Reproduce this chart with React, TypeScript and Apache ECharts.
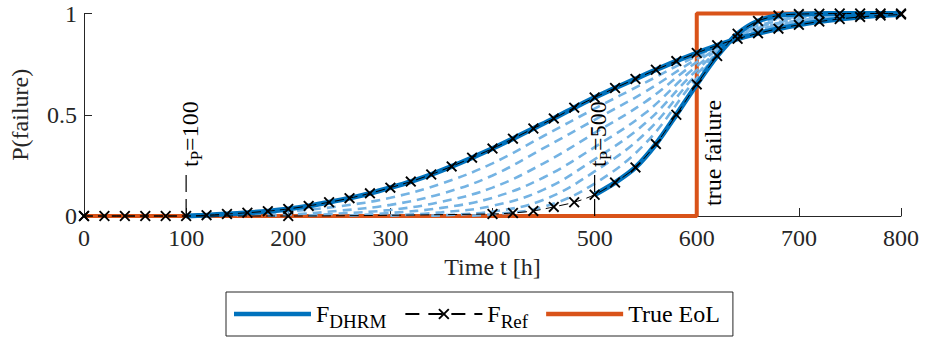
import React, { useEffect, useRef } from "react";
import * as echarts from "echarts";

// ---- data ----
const refTimesTp100 = [0, 20, 40, 60, 80, 100, 120, 140, 160, 180, 200, 220, 240, 260, 280, 300, 320, 340, 360, 380, 400, 420, 440, 460, 480, 500, 520, 540, 560, 580, 600, 620, 640, 660, 680, 700, 720, 740, 760, 780, 800];
const refValuesTp100 = [0, 0, 0, 0, 0, 0, 0.004, 0.01, 0.016, 0.024, 0.035, 0.05, 0.068, 0.088, 0.112, 0.14, 0.17, 0.205, 0.245, 0.288, 0.333, 0.382, 0.432, 0.482, 0.535, 0.585, 0.632, 0.677, 0.722, 0.765, 0.805, 0.843, 0.875, 0.902, 0.925, 0.944, 0.96, 0.973, 0.983, 0.99, 0.995];

const refTimesTp500 = [0, 200, 400, 420, 440, 460, 480, 500, 520, 540, 560, 580, 600, 620, 640, 660, 680, 700, 720, 740, 760, 780, 800];
const refValuesTp500 = [0, 0, 0.01, 0.015, 0.025, 0.045, 0.068, 0.105, 0.165, 0.24, 0.355, 0.5, 0.65, 0.79, 0.9, 0.963, 0.99, 0.997, 0.999, 1, 1, 1, 1];

const predictionTimes = [100, 500];

const curveTp150 = [[150, 0.003], [200, 0.022], [250, 0.048], [300, 0.09], [350, 0.16], [400, 0.26], [450, 0.395], [500, 0.53], [550, 0.66], [600, 0.79], [650, 0.9], [700, 0.95], [750, 0.985], [800, 0.997]];
const curveTp200 = [[180, 0.002], [200, 0.006], [250, 0.026], [300, 0.055], [350, 0.11], [400, 0.2], [450, 0.335], [500, 0.475], [550, 0.615], [600, 0.775], [650, 0.905], [700, 0.955], [750, 0.988], [800, 0.998]];
const curveTp250 = [[220, 0.002], [250, 0.012], [300, 0.03], [350, 0.07], [400, 0.14], [450, 0.26], [500, 0.41], [550, 0.565], [600, 0.76], [650, 0.91], [700, 0.96], [750, 0.99], [800, 0.998]];
const curveTp300 = [[260, 0.002], [300, 0.015], [350, 0.04], [400, 0.09], [450, 0.19], [500, 0.34], [550, 0.51], [600, 0.74], [650, 0.915], [700, 0.965], [750, 0.992], [800, 0.999]];
const curveTp350 = [[300, 0.002], [350, 0.018], [400, 0.05], [450, 0.13], [500, 0.28], [550, 0.46], [600, 0.72], [650, 0.92], [700, 0.97], [750, 0.994], [800, 0.999]];
const curveTp400 = [[340, 0.002], [400, 0.022], [450, 0.08], [500, 0.22], [550, 0.41], [600, 0.7], [650, 0.93], [700, 0.98], [750, 0.996], [800, 1]];
const curveTp450 = [[380, 0.002], [400, 0.008], [450, 0.045], [500, 0.16], [550, 0.36], [600, 0.68], [650, 0.935], [700, 0.985], [750, 0.998], [800, 1]];

const eolTimes = [0, 600, 600, 800];
const eolValues = [0, 0, 1, 1];

const markerLineTop = 0.22;
const markerLabelStart = 0.242;
const failureTime = 600;
const failureLabelStart = 0.05;

// ---- styles ----
const FONT = "Liberation Serif, Times New Roman, serif";
const BLUE = "#0072BD";
const LIGHT = "#74b3e3";
const ORANGE = "#D95319";
const AXIS = "#262626";
const CROSS = "path://M0,1.2 L1.2,0 L5,3.8 L8.8,0 L10,1.2 L6.2,5 L10,8.8 L8.8,10 L5,6.2 L1.2,10 L0,8.8 L3.8,5 Z";
const BAR_ICON = "path://M0,0 L77,0 L77,4.5 L0,4.5 Z";

function zip(ts: number[], vs: number[]) {
  return ts.map((t, i) => [t, vs[i]]);
}

export default function App() {
  const ref = useRef<HTMLDivElement>(null);
  useEffect(() => {
    if (!ref.current) return;
    const chart = echarts.init(ref.current, null, { renderer: "svg" });

    const ref100 = zip(refTimesTp100, refValuesTp100);
    const ref500 = zip(refTimesTp500, refValuesTp500);
    const dhrm100 = ref100.filter((p) => p[0] >= predictionTimes[0]);
    const dhrm500 = ref500.filter((p) => p[0] >= predictionTimes[1]);
    const dashed = [curveTp150, curveTp200, curveTp250, curveTp300, curveTp350, curveTp400, curveTp450];

    const series: any[] = [];
    series.push({
      name: "True EoL",
      type: "line",
      data: zip(eolTimes, eolValues),
      symbol: "none",
      lineStyle: { color: ORANGE, width: 4 },
      itemStyle: { color: ORANGE },
      clip: false,
      z: 1,
    });
    dashed.forEach((c, i) => {
      series.push({
        name: "interm" + i,
        type: "line",
        data: c,
        smooth: 0.4,
        symbol: "none",
        lineStyle: { color: LIGHT, width: 2.6, type: [9, 6] },
        clip: false,
        z: 2,
      });
    });
    [dhrm100, dhrm500].forEach((d) => {
      series.push({
        name: "F_DHRM",
        type: "line",
        data: d,
        smooth: 0.3,
        symbol: "none",
        lineStyle: { color: BLUE, width: 5 },
        itemStyle: { color: BLUE },
        clip: false,
        z: 3,
      });
    });
    [ref100, ref500].forEach((d) => {
      series.push({
        name: "F_Ref",
        type: "line",
        data: d,
        smooth: 0.3,
        symbol: CROSS,
        symbolSize: 11,
        showSymbol: true,
        lineStyle: { color: "#000", width: 1, type: [9, 5] },
        itemStyle: { color: "#000" },
        clip: false,
        z: 4,
      });
    });
    predictionTimes.forEach((tp) => {
      series.push({
        name: "tp" + tp,
        type: "line",
        data: [[tp, 0], [tp, markerLineTop]],
        symbol: "none",
        lineStyle: { color: "#000", width: 1.2, type: [17, 7] },
        clip: false,
        z: 5,
      });
    });

    chart.setOption({
      animation: false,
      grid: { left: 79, right: 26, top: 13.5, bottom: 123, containLabel: false },
      xAxis: {
        type: "value",
        min: 0,
        max: 800,
        interval: 100,
        name: "Time t [h]",
        nameLocation: "middle",
        nameGap: 38,
        nameTextStyle: { fontFamily: FONT, fontSize: 24, color: AXIS },
        axisLine: { show: true, lineStyle: { color: AXIS, width: 1 } },
        axisTick: { show: true, inside: true, length: 8, lineStyle: { color: AXIS } },
        axisLabel: { fontFamily: FONT, fontSize: 24, color: AXIS, margin: 10 },
        splitLine: { show: false },
      },
      yAxis: {
        type: "value",
        min: 0,
        max: 1,
        interval: 0.5,
        name: "P(failure)",
        nameLocation: "middle",
        nameGap: 52,
        nameRotate: 90,
        nameTextStyle: { fontFamily: FONT, fontSize: 24, color: AXIS },
        axisLine: { show: true, lineStyle: { color: AXIS, width: 1 } },
        axisTick: { show: true, inside: true, length: 8, lineStyle: { color: AXIS } },
        axisLabel: { fontFamily: FONT, fontSize: 24, color: AXIS, margin: 7 },
        splitLine: { show: false },
      },
      legend: {
        data: [
          { name: "F_DHRM", icon: BAR_ICON, itemStyle: { color: BLUE } },
          { name: "F_Ref", lineStyle: { type: [14, 9] } },
          { name: "True EoL", icon: BAR_ICON, itemStyle: { color: ORANGE } },
        ],
        left: 226,
        top: 292,
        orient: "horizontal",
        itemWidth: 77,
        itemHeight: 14,
        itemGap: 18,
        padding: [5, 13, 5, 8],
        borderColor: "#262626",
        borderWidth: 1,
        backgroundColor: "#fff",
        formatter: (name: string) =>
          name === "F_DHRM" ? "{m|F}{s|DHRM}" : name === "F_Ref" ? "{m|F}{s|Ref}" : "{m|True EoL}",
        textStyle: {
          fontFamily: FONT,
          color: "#000",
          rich: {
            m: { fontFamily: FONT, fontSize: 24, lineHeight: 24, verticalAlign: "top", color: "#000" },
            s: { fontFamily: FONT, fontSize: 19, lineHeight: 19, padding: [15, 0, 0, 0], color: "#000" },
          },
        },
      },
      series,
    });

    const px = (x: number, y: number) => chart.convertToPixel({ gridIndex: 0 }, [x, y]) as number[];
    const graphics: any[] = predictionTimes.map((tp) => {
      const p = px(tp, markerLabelStart);
      return {
        type: "text",
        x: p[0] + 3.5,
        y: p[1],
        rotation: Math.PI / 2,
        z: 10,
        style: {
          text: "{m|t}{s|P}{m|=" + tp + "}",
          fill: "#000",
          fontFamily: FONT,
          fontSize: 24,
          align: "left",
          verticalAlign: "middle",
          rich: {
            m: { fontFamily: FONT, fontSize: 24, lineHeight: 24, verticalAlign: "top", fill: "#000" },
            s: { fontFamily: FONT, fontSize: 17, lineHeight: 17, padding: [14, 0, 0, 0], fill: "#000" },
          },
        },
      };
    });
    const f = px(failureTime, failureLabelStart);
    graphics.push({
      type: "text",
      x: f[0] + 4,
      y: f[1],
      rotation: Math.PI / 2,
      z: 10,
      style: {
        text: "true failure",
        fill: "#000",
        fontFamily: FONT,
        fontSize: 24,
        lineHeight: 24,
        align: "left",
        verticalAlign: "top",
      },
    });
    chart.setOption({ graphic: graphics });

    return () => chart.dispose();
  }, []);

  return (
    <div
      ref={ref}
      style={{ position: "fixed", left: 0, top: 0, width: 927, height: 339, background: "#fff" }}
    />
  );
}
